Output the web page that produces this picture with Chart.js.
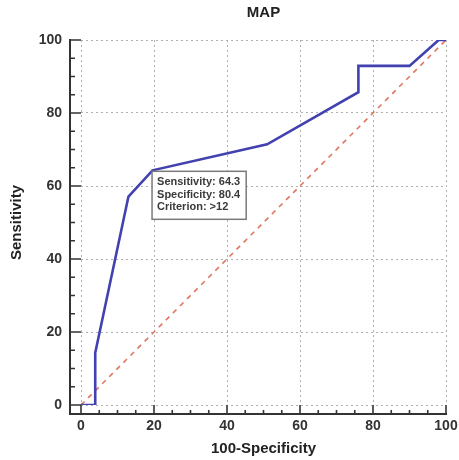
<!DOCTYPE html>
<html>
<head>
<meta charset="utf-8">
<script src="https://cdn.jsdelivr.net/npm/chart.js@4/dist/chart.umd.min.js"></script>
<style>
html,body{margin:0;padding:0;background:#fff;}
canvas{display:block;}
</style>
</head>
<body>
<canvas id="c" width="459" height="460"></canvas>
<script>
// ROC curve (100-Specificity, Sensitivity)
const rocX = [0, 3.9, 3.9, 13.0, 19.6, 51.0, 76.0, 76.0, 90.0, 98.0, 100];
const rocY = [0, 0, 14.3, 57.1, 64.3, 71.4, 85.7, 92.9, 92.9, 100, 100];
// Reference diagonal
const diagX = [0, 100];
const diagY = [0, 100];
// Criterion point and its labels
const critPoint = [19.6, 64.3];
const critLabels = ["Sensitivity: 64.3", "Specificity: 80.4", "Criterion: >12"];
// Axis ticks
const majorTicks = [0, 20, 40, 60, 80, 100];
const minorTicks = [5,10,15,25,30,35,45,50,55,65,70,75,85,90,95];

const FONT = "'Liberation Sans', Arial, Helvetica, sans-serif";

const toPts = (xs, ys) => xs.map((x, i) => ({x: x, y: ys[i]}));

const axesPlugin = {
  id: 'axesPlugin',
  afterDatasetsDraw(chart) {
    const ctx = chart.ctx;
    const xs = chart.scales.x, ys = chart.scales.y;
    const ca = chart.chartArea;
    const axX = ca.left - 11;   // y axis line position
    const axY = ca.bottom + 9;  // x axis line position
    ctx.save();
    ctx.strokeStyle = '#333';
    ctx.lineWidth = 2;
    ctx.setLineDash([]);
    ctx.beginPath();
    ctx.moveTo(axX, ys.getPixelForValue(100) - 1);
    ctx.lineTo(axX, axY);
    ctx.lineTo(xs.getPixelForValue(100) + 1, axY);
    ctx.stroke();
    ctx.lineWidth = 1.6;
    ctx.beginPath();
    majorTicks.forEach(v => {
      const py = ys.getPixelForValue(v);
      ctx.moveTo(axX, py); ctx.lineTo(ca.left, py);
      const px = xs.getPixelForValue(v);
      ctx.moveTo(px, axY); ctx.lineTo(px, ca.bottom);
    });
    minorTicks.forEach(v => {
      const py = ys.getPixelForValue(v);
      ctx.moveTo(axX, py); ctx.lineTo(axX + 5, py);
      const px = xs.getPixelForValue(v);
      ctx.moveTo(px, axY); ctx.lineTo(px, axY - 4);
    });
    ctx.stroke();

    // criterion annotation box
    const bx = xs.getPixelForValue(critPoint[0]) - 0.5;
    const by = ys.getPixelForValue(critPoint[1]) + 1;
    ctx.font = "bold 11px " + FONT;
    let w = 0;
    critLabels.forEach(t => { w = Math.max(w, ctx.measureText(t).width); });
    const bw = w + 11, bh = 48;
    ctx.fillStyle = 'rgba(255,255,255,0.92)';
    ctx.fillRect(bx, by, bw, bh);
    ctx.strokeStyle = '#7a7a7a';
    ctx.lineWidth = 1.5;
    ctx.strokeRect(bx, by, bw, bh);
    ctx.fillStyle = '#3a3a3a';
    ctx.textBaseline = 'middle';
    ctx.textAlign = 'left';
    critLabels.forEach((t, i) => {
      ctx.fillText(t, bx + 5, by + 11 + i * 12.5);
    });
    ctx.restore();
  }
};

new Chart(document.getElementById('c'), {
  type: 'scatter',
  data: {
    datasets: [
      {
        data: toPts(diagX, diagY),
        showLine: true,
        borderColor: '#e0765f',
        borderWidth: 1.6,
        borderDash: [5, 5],
        pointRadius: 0,
        order: 2
      },
      {
        data: toPts(rocX, rocY),
        showLine: true,
        borderColor: '#4141b0',
        borderWidth: 2.6,
        pointRadius: 0,
        tension: 0,
        order: 1
      }
    ]
  },
  options: {
    responsive: false,
    animation: false,
    events: [],
    layout: {padding: {left: 0, right: 13, top: 0, bottom: 0}},
    plugins: {
      legend: {display: false},
      tooltip: {enabled: false},
      title: {
        display: true,
        fullSize: false,
        text: 'MAP',
        color: '#222',
        font: {family: FONT, size: 15, weight: 'bold'},
        padding: {top: 4, bottom: 18}
      }
    },
    scales: {
      x: {
        type: 'linear',
        min: 0, max: 100,
        afterFit: s => { s.height = 55; s.paddingRight = 0; s.paddingLeft = 0; },
        ticks: {stepSize: 20, color: '#333', padding: 13,
                font: {family: FONT, size: 14, weight: 'bold'}},
        grid: {color: '#b0b0b0', lineWidth: 1, drawTicks: false},
        border: {display: false, dash: [2, 3]},
        title: {display: true, text: '100-Specificity', color: '#222',
                font: {family: FONT, size: 15, weight: 'bold'},
                padding: {top: 0, bottom: 2}}
      },
      y: {
        type: 'linear',
        min: 0, max: 100,
        afterFit: s => { s.width = 81; },
        ticks: {stepSize: 20, color: '#333', padding: 19,
                font: {family: FONT, size: 14, weight: 'bold'}},
        grid: {color: '#b0b0b0', lineWidth: 1, drawTicks: false},
        border: {display: false, dash: [2, 3]},
        title: {display: true, text: 'Sensitivity', color: '#222',
                font: {family: FONT, size: 15, weight: 'bold'},
                padding: {top: 8, bottom: 0}}
      }
    }
  },
  plugins: [axesPlugin]
});
</script>
</body>
</html>
